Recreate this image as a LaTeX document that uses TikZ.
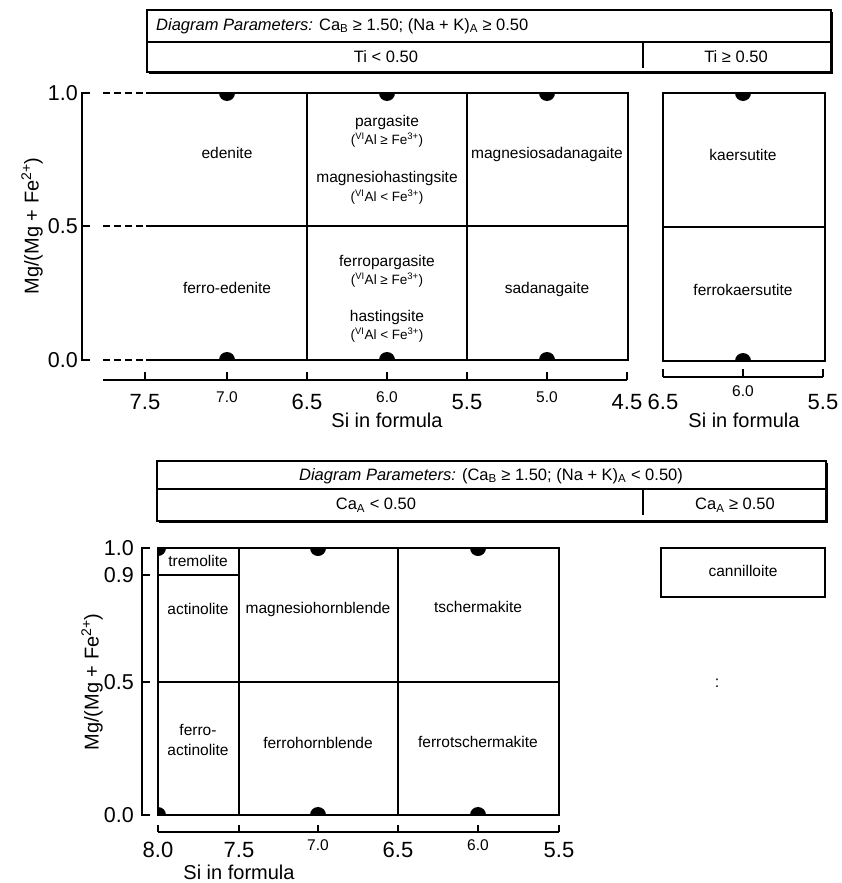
\documentclass[tikz,border=0pt]{standalone}
\usepackage{fontspec}
\setmainfont{Liberation Sans}
\newcommand\myfs[1]{\fontsize{#1}{#1}\selectfont}
\begin{document}
\begin{tikzpicture}[x=1pt,y=-1pt,
  lbl/.style={font=\myfs{15.5},inner sep=0pt},
  cond/.style={font=\myfs{13.5},inner sep=0pt},
  major/.style={font=\myfs{22},anchor=north,inner sep=0pt},
  minor/.style={font=\myfs{15.5},anchor=north,inner sep=0pt},
  ytick/.style={font=\myfs{21.5},anchor=east,inner sep=0pt},
  axtitle/.style={font=\myfs{20},inner sep=0pt},
  hdr/.style={font=\myfs{16.5},inner sep=0pt},
  frame/.style={line width=1.7pt},
  divline/.style={line width=1.4pt},
  axisline/.style={line width=1.2pt},
  dashseg/.style={line width=1.7pt,dash pattern=on 7pt off 4pt},
  shadowline/.style={line width=1.6pt}]
\useasboundingbox (0,0) rectangle (841,883);

% ---------- top header ----------
\draw[line width=1.2pt] (147,10) rectangle (831,72);
\draw[shadowline] (149,73.5) -- (832.5,73.5) -- (832.5,12);
\draw[divline] (147,42) -- (831,42);
\draw[divline] (643,42) -- (643,68);
\node[hdr,anchor=west] (h1) at (156,26) {\textit{Diagram Parameters:} Ca\textsubscript{B} ≥ 1.50; (Na + K)\textsubscript{A} ≥ 0.50};
\node[hdr] (h1a) at (386,57) {Ti < 0.50};
\node[hdr] (h1b) at (736,57) {Ti ≥ 0.50};

% ---------- top-left plot ----------
\begin{scope}
  \clip (146,93) rectangle (628,360);
  \foreach \x in {227,387,547} {\fill (\x,93) circle (8); \fill (\x,360) circle (8);}
\end{scope}
\foreach \y in {93,226,360} {\draw[dashseg] (103,\y) -- (146,\y);}
\draw[frame] (146,93) -- (628,93) -- (628,360) -- (146,360);
\draw[divline] (146,226) -- (628,226);
\draw[divline] (307,93) -- (307,360);
\draw[divline] (467,93) -- (467,360);

\draw[axisline] (90,93) -- (82,93) -- (82,360) -- (90,360);
\draw[axisline] (82,226) -- (90,226);
\node[ytick] (ya1) at (78,93) {1.0};
\node[ytick] (ya2) at (78,226) {0.5};
\node[ytick] (ya3) at (78,360) {0.0};
\node[axtitle,rotate=90] (yt1) at (32,226) {Mg/(Mg + Fe\textsuperscript{2+})};

\draw[axisline] (103,380) -- (627,380);
\foreach \x in {145,227,307,387,467,547,627} {\draw[axisline] (\x,380) -- (\x,372);}
\node[major] (xa1) at (145,394) {7.5};
\node[minor] (xa2) at (227,391) {7.0};
\node[major] (xa3) at (307,394) {6.5};
\node[minor] (xa4) at (387,391) {6.0};
\node[major] (xa5) at (467,394) {5.5};
\node[minor] (xa6) at (547,391) {5.0};
\node[major] (xa7) at (627,394) {4.5};
\node[axtitle] (xt1) at (387,420) {Si in formula};

\node[lbl] (edenite) at (227,153) {edenite};
\node[lbl] (fedenite) at (227,288) {ferro-edenite};
\node[lbl] (parg) at (387,122) {pargasite};
\node[cond] (pargc) at (387,140) {(\textsuperscript{VI}Al ≥ Fe\textsuperscript{3+})};
\node[lbl] (mhast) at (387,178) {magnesiohastingsite};
\node[cond] (mhastc) at (387,197) {(\textsuperscript{VI}Al < Fe\textsuperscript{3+})};
\node[lbl] (fparg) at (387,262) {ferropargasite};
\node[cond] (fpargc) at (387,280) {(\textsuperscript{VI}Al ≥ Fe\textsuperscript{3+})};
\node[lbl] (hast) at (387,317) {hastingsite};
\node[cond] (hastc) at (387,335) {(\textsuperscript{VI}Al < Fe\textsuperscript{3+})};
\node[lbl] (msad) at (547,154) {magnesiosadanagaite};
\node[lbl] (sad) at (547,289) {sadanagaite};

% ---------- top-right plot ----------
\begin{scope}
  \clip (663,93) rectangle (825,361);
  \fill (743,93) circle (8); \fill (743,361) circle (8);
\end{scope}
\draw[frame] (663,93) rectangle (825,361);
\draw[divline] (663,227) -- (825,227);
\draw[axisline] (663,377) -- (823,377);
\foreach \x in {663,743,823} {\draw[axisline] (\x,377) -- (\x,369);}
\node[major] (xb1) at (663,394) {6.5};
\node[minor] (xb2) at (743,385) {6.0};
\node[major] (xb3) at (823,394) {5.5};
\node[axtitle] (xt2) at (744,420) {Si in formula};
\node[lbl] (kaer) at (743,155) {kaersutite};
\node[lbl] (fkaer) at (743,290) {ferrokaersutite};

% ---------- bottom header ----------
\draw[line width=1.2pt] (157,461) rectangle (826,521);
\draw[shadowline] (159,522.5) -- (827.5,522.5) -- (827.5,463);
\draw[divline] (157,489) -- (826,489);
\draw[divline] (643,489) -- (643,515);
\node[hdr] (h2) at (491,476) {\textit{Diagram Parameters:} (Ca\textsubscript{B} ≥ 1.50; (Na + K)\textsubscript{A} < 0.50)};
\node[hdr] (h2a) at (376,505) {Ca\textsubscript{A} < 0.50};
\node[hdr] (h2b) at (735,505) {Ca\textsubscript{A} ≥ 0.50};

% ---------- bottom plot ----------
\begin{scope}
  \clip (158,548) rectangle (559,815);
  \foreach \x in {158,318,478} {\fill (\x,548) circle (8); \fill (\x,815) circle (8);}
\end{scope}
\draw[frame] (158,548) rectangle (559,815);
\draw[divline] (158,682) -- (559,682);
\draw[divline] (158,575) -- (239,575);
\draw[divline] (239,548) -- (239,815);
\draw[divline] (398,548) -- (398,815);

\draw[axisline] (150,548) -- (142,548) -- (142,815) -- (150,815);
\draw[axisline] (142,575) -- (150,575);
\draw[axisline] (142,682) -- (150,682);
\node[ytick] (yc1) at (134,548) {1.0};
\node[ytick] (yc2) at (134,575) {0.9};
\node[ytick] (yc3) at (134,682) {0.5};
\node[ytick] (yc4) at (134,815) {0.0};
\node[axtitle,rotate=90] (yt3) at (92,682) {Mg/(Mg + Fe\textsuperscript{2+})};

\draw[axisline] (158,832) -- (559,832);
\foreach \x in {158,239,318,398,478,559} {\draw[axisline] (\x,832) -- (\x,825);}
\node[major] (xc1) at (158,842) {8.0};
\node[major] (xc2) at (239,842) {7.5};
\node[minor] (xc3) at (318,839) {7.0};
\node[major] (xc4) at (398,842) {6.5};
\node[minor] (xc5) at (478,839) {6.0};
\node[major] (xc6) at (559,842) {5.5};
\node[axtitle] (xt3) at (239,872) {Si in formula};

\node[lbl] (trem) at (198,561) {tremolite};
\node[lbl] (act) at (198,609) {actinolite};
\node[lbl] (mhbl) at (318,609) {magnesiohornblende};
\node[lbl] (tsch) at (478,607) {tschermakite};
\node[lbl,align=center,font=\fontsize{15.5}{20}\selectfont] (fact) at (198,740) {ferro-\\actinolite};
\node[lbl] (fhbl) at (318,743) {ferrohornblende};
\node[lbl] (ftsch) at (478,742) {ferrotschermakite};

% ---------- cannilloite ----------
\draw[line width=1.5pt] (661,548) rectangle (825,597);
\node[lbl] (cann) at (743,571) {cannilloite};
\node[font=\myfs{16},inner sep=0pt] (colon) at (717,683) {:};
\end{tikzpicture}
\end{document}
